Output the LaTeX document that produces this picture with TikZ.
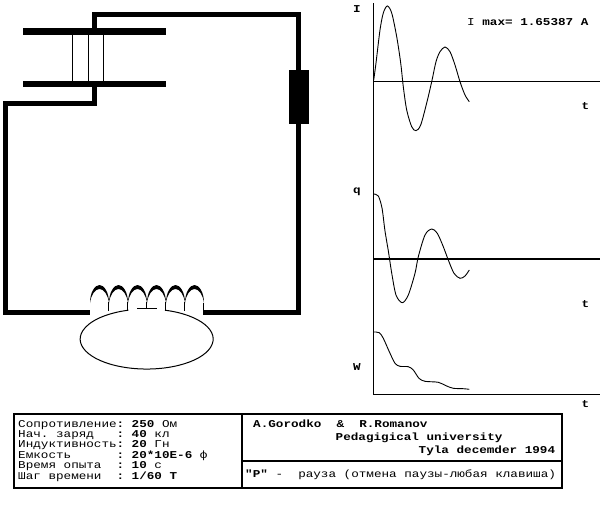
\documentclass[tikz,border=0pt]{standalone}
\usepackage{fontspec}
\setmonofont[FakeStretch=1.203]{Liberation Mono}
\tikzset{
        wire/.style={line width=5pt},
        plate/.style={draw=none,fill=black,shape=rectangle,inner sep=0pt,minimum width=143pt},
        thinline/.style={line width=1pt},
        curve/.style={line width=0.9pt,smooth},
        txt/.style={font=\ttfamily\fontsize{10.5}{10.5}\selectfont,anchor=base west,inner sep=0pt},
        frame/.style={line width=2pt}
}
\begin{document}
\begin{tikzpicture}[x=1pt,y=-1pt]
        \useasboundingbox (0,0) rectangle (606,506);
        \draw (94.5,31.5) node (plateT) [plate,minimum height=7pt] {};
        \draw (94.5,84) node (plateB) [plate,minimum height=6pt] {};
        \foreach \x in {72.5,88.5,103.5} {
            \draw[thinline] (plateT.south -| \x,0) -- (plateB.north -| \x,0);
        }
        \coordinate (wireTR) at (298.5,14.5);
        \coordinate (wireL) at (5.5,103.5);
        \coordinate (wireBL) at (5.5,312.5);
        \coordinate (coilL) at (90,312.5);
        \coordinate (coilR) at (203,312.5);
        \draw (298.5,97) node (R) [fill=black,shape=rectangle,inner sep=0pt,minimum width=20pt,minimum height=54pt] {};
        \draw[wire] (plateT.north) |- (wireTR) -- (R.north);
        \draw[wire] (R.south) |- (coilR);
        \draw[wire] (plateB.south) |- (wireL) -- (wireBL) -- (coilL);
        \foreach \x in {90,109,128,147,166,185} {
            \fill (\x,303) .. controls (\x,292) and ({\x+5},285) .. ({\x+9.5},285) .. controls ({\x+14},285) and ({\x+19},292) .. ({\x+19},303)
                .. controls ({\x+18},295) and ({\x+14},289) .. ({\x+9.5},289) .. controls ({\x+5},289) and ({\x+1},295) .. (\x,303) -- cycle;
        }
        \foreach \x in {108.5,127.5,165.5,184.5} {
            \draw[thinline] (\x,302) -- (\x,311);
        }
        \draw[thinline] (146.5,302) -- (146.5,308.5);
        \draw[thinline] (137,308.5) -- (157,308.5);
        \draw[thinline] (203.5,303) -- (203.5,311);
        \coordinate (loopR) at (165,310.2);
        \draw[thinline] (loopR) arc [start angle=-74,end angle=254,x radius=66.5,y radius=30];

        \coordinate (axisTop) at (373.7,3);
        \coordinate (axisBot) at (373.7,394);
        \coordinate (axisIEnd) at (600,81);
        \coordinate (axisQEnd) at (600,258.7);
        \coordinate (axisWEnd) at (600,394);
        \draw[thinline] (axisTop) -- (axisBot) -- (axisWEnd);
        \draw[thinline] (axisTop |- axisIEnd) -- (axisIEnd);
        \draw[line width=2pt] (axisTop |- axisQEnd) -- (axisQEnd);
        \draw[curve] plot coordinates {(373.7,80) (376,63) (380,30) (383.3,13) (387.3,6) (391.7,13) (396.7,36.7) (400.7,63) (403.3,86.7) (406.7,110) (411.7,126.7) (416,130.7) (420.7,125) (426.7,103) (431.7,81.7) (436,61.7) (440,51.7) (445,47) (450,51.7) (455,65) (460,81.7) (465,95) (469.3,101.7)};
        \draw[curve] plot coordinates {(373.7,194) (378.3,196) (382,208) (385,231) (388.5,252) (391.7,273) (396,295) (402.3,302.7) (408.3,295) (415,273.3) (418.3,256.7) (425,235) (431.7,229) (437.3,233.3) (443.3,246.7) (448.3,260) (454,273.3) (460,278.3) (465,276) (469.3,270)};
        \draw[curve] plot coordinates {(373.7,332) (379.3,332.7) (383.3,338.3) (389.3,351.7) (395,363.3) (400,366.3) (408.3,366.7) (413.3,370) (419,378.3) (425,381.3) (438.3,382.3) (446.7,386) (453.3,388.3) (463.3,388.7) (469.3,389.3)};
        \draw (353,12.5) node (labI) [txt] {\textbf{I}};
        \draw (353,193.5) node (labQ) [txt] {\textbf{q}};
        \draw (353,370) node (labW) [txt] {\textbf{W}};
        \draw (581.5,109) node (labTI) [txt] {\textbf{t}};
        \draw (581.5,307.5) node (labTQ) [txt] {\textbf{t}};
        \draw (581.5,407) node (labTW) [txt] {\textbf{t}};
        \draw (467,26) node (labMax) [txt] {I \textbf{max= 1.65387 A}};

        \draw[frame] (14,414) rectangle (562,488);
        \coordinate (frameTop) at (241.7,414);
        \coordinate (frameBot) at (241.7,488);
        \coordinate (frameR) at (562,461);
        \draw[frame] (frameTop) -- (frameBot);
        \draw[frame] (frameTop |- frameR) -- (frameR);
        \foreach \y/\lab/\val [count=\i] in {
                427.5/Сопротивление/\textbf{250} Ом,
                437.2/Нач. заряд/\textbf{40} кл,
                447.8/Индуктивность/\textbf{20} Гн,
                458.5/Емкость/\textbf{20*10E-6} ф,
                468.5/Время опыта/\textbf{10} с,
                479.5/Шаг времени/\textbf{1/60 Т}} {
            \draw (18,\y) node (lab\i) [txt] {\lab};
            \draw (116.5,\y) node (col\i) [txt] {\textbf{:}};
            \draw (131.5,\y) node (val\i) [txt] {\val};
        }
        \draw (253,427.5) node (authors) [txt] {\textbf{A.Gorodko~~\&~~R.Romanov}};
        \draw (335.5,440.2) node (univ) [txt] {\textbf{Pedagigical university}};
        \draw (418.5,453.5) node (place) [txt] {\textbf{Tyla decemder 1994}};
        \draw (245,477.5) node (pause) [txt] {\textbf{"P"}~-~~рауза (отмена паузы-любая клавиша)};
\end{tikzpicture}
\end{document}
